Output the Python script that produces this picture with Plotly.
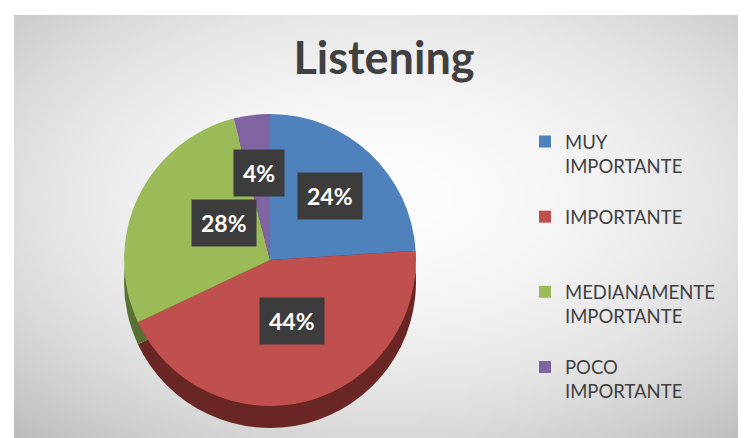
import base64, struct, zlib, math
import numpy as np
import plotly.graph_objects as go

# ---- data ----
categories = ["MUY IMPORTANTE", "IMPORTANTE", "MEDIANAMENTE IMPORTANTE", "POCO IMPORTANTE"]
legend_labels = ["MUY<br>IMPORTANTE<br> ", "IMPORTANTE<br> <br> ", "MEDIANAMENTE<br>IMPORTANTE<br> ", "POCO<br>IMPORTANTE"]
values = [24, 44, 28, 4]
top_colors = ["#4F81BD", "#C0504D", "#9BBB59", "#8064A2"]
side_colors = ["#2E4B6E", "#6A2624", "#5B6F34", "#4B3A61"]
title_text = "Listening"

W, H = 746, 438

# ---- background radial gradient image ----
def png_uri(gray):
    h, w = gray.shape
    raw = b"".join(b"\x00" + gray[i].tobytes() for i in range(h))
    def chunk(t, d):
        c = struct.pack(">I", len(d)) + t + d
        return c + struct.pack(">I", zlib.crc32(t + d) & 0xffffffff)
    png = b"\x89PNG\r\n\x1a\n" + chunk(b"IHDR", struct.pack(">IIBBBBB", w, h, 8, 0, 0, 0, 0)) \
        + chunk(b"IDAT", zlib.compress(raw, 9)) + chunk(b"IEND", b"")
    return "data:image/png;base64," + base64.b64encode(png).decode()

gw, gh = 185, 107
yy, xx = np.mgrid[0:gh, 0:gw]
t = np.sqrt(((xx - gw * 0.5) / (gw * 0.5)) ** 2 + ((yy - gh * 0.42) / (gh * 0.5)) ** 2)
grad = np.clip(252 - 55 * (t / 1.4) ** 2, 185, 255).astype(np.uint8)
bg_uri = png_uri(grad)

# ---- pie geometry (pixels) ----
cx, cy, r, depth = 262, 252, 146, 22
def dom(cx_, cy_):
    return dict(x=[(cx_ - r) / W, (cx_ + r) / W], y=[1 - (cy_ + r) / H, 1 - (cy_ - r) / H])

fig = go.Figure()
fig.add_trace(go.Pie(labels=legend_labels, values=values, sort=False, direction="clockwise",
                     rotation=0, marker=dict(colors=side_colors, line=dict(width=0)),
                     textinfo="none", domain=dom(cx, cy + depth), showlegend=False, hoverinfo="skip"))
fig.add_trace(go.Pie(labels=legend_labels, values=values, sort=False, direction="clockwise",
                     rotation=0, marker=dict(colors=top_colors, line=dict(width=0)),
                     textinfo="none", domain=dom(cx, cy), showlegend=True))

# ---- data labels ----
total = sum(values)
cum = 0
anns = []
for v in values:
    mid = (cum + v / 2) / total * 2 * math.pi
    cum += v
    px = cx + 0.6 * r * math.sin(mid)
    py = cy - 0.6 * r * math.cos(mid)
    anns.append(dict(x=px / W, y=1 - py / H, xref="paper", yref="paper", text=f"<b>{round(v / total * 100)}%</b>",
                     showarrow=False, font=dict(family="Lato", size=23, color="white"),
                     bgcolor="#3C3C3C", borderpad=9))

fig.update_layout(
    width=W, height=H, margin=dict(l=0, r=0, t=0, b=0),
    paper_bgcolor="white",
    title=dict(text=f"<b>{title_text}</b>", x=376 / W, xanchor="center", y=1 - 50 / H, yanchor="middle",
               font=dict(family="Lato", size=45, color="#404040")),
    legend=dict(x=517 / W, xanchor="left", y=1 - 115 / H, yanchor="top", valign="top",
                font=dict(family="Lato", size=18.5, color="#404040"), itemwidth=30,
                bgcolor="rgba(0,0,0,0)", traceorder="normal"),
    images=[dict(source=bg_uri, xref="paper", yref="paper", x=6 / W, y=1 - 7 / H,
                 sizex=740 / W, sizey=429 / H, xanchor="left", yanchor="top",
                 sizing="stretch", layer="below")],
    annotations=anns,
)

fig.write_html("out.html")
